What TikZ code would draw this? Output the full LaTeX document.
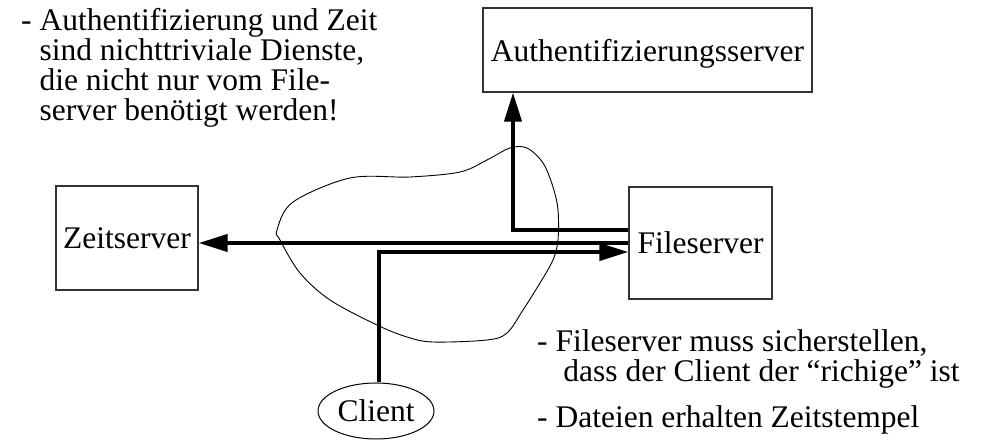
\documentclass[tikz,border=0pt]{standalone}
\usepackage{fontspec}
\setmainfont{Liberation Serif}
\usetikzlibrary{arrows.meta,shapes.geometric}
\begin{document}
\begin{tikzpicture}[x=1pt,y=1pt,
  every node/.style={font=\fontsize{31.5}{30}\selectfont},
  box/.style={draw=black!80, line width=1.2pt, inner sep=0pt, text depth=0pt},
  conn/.style={line width=4pt, line join=miter, -{Triangle[length=29pt,width=17pt]}},
  txt/.style={anchor=base west, inner sep=0pt, align=left}]
\useasboundingbox (0,0) rectangle (986,441);
% boxes
\node[box, minimum width=329pt, minimum height=84pt] (auth) at (647.5,391) {Authentifizierungsserver};
\node[box, minimum width=142pt, minimum height=104pt] (zeit) at (127,203) {Zeitserver};
\node[box, minimum width=143pt, minimum height=112pt] (fs) at (700.5,198) {Fileserver};
\node[ellipse, draw=black, line width=1pt, inner sep=0pt, minimum width=116pt, minimum height=56pt, text depth=0pt] (cl) at (376,30) {Client};
% cloud
\draw[line width=0.9pt] plot[smooth cycle, tension=0.55] coordinates {
 (510,293) (527,293) (543,278) (553,254) (558,231) (558,201) (553,181)
 (540,158) (523,131) (507,108) (487,101) (433,99) (407,104) (377,116)
 (330,141) (300,168) (280,201) (277,211) (293,239) (350,263) (410,264)
 (460,269) (487,281)};
% helper coordinates
\coordinate (ac) at (513,211);
\coordinate (cc) at (379,189);
% connectors
\draw[conn] (fs.west) -- (fs.west -| zeit.east);
\draw[conn] (ac -| fs.west) -- (ac) -- (ac |- auth.south);
\draw[conn] (cc |- cl.north) -- (cc) -- (cc -| fs.west);
% texts (base anchor = baseline of the last line)
\node[txt] (t1) at (21,320) {- Authentifizierung und Zeit\\\hphantom{- }sind nichttriviale Dienste,\\\hphantom{- }die nicht nur vom File-\\\hphantom{- }server benötigt werden!};
\node[txt] (t2) at (537,59) {- Fileserver muss sicherstellen,\\\hphantom{- }\ dass der Client der “richige” ist};
\node[txt] (t3) at (537,13) {- Dateien erhalten Zeitstempel};
\end{tikzpicture}
\end{document}
